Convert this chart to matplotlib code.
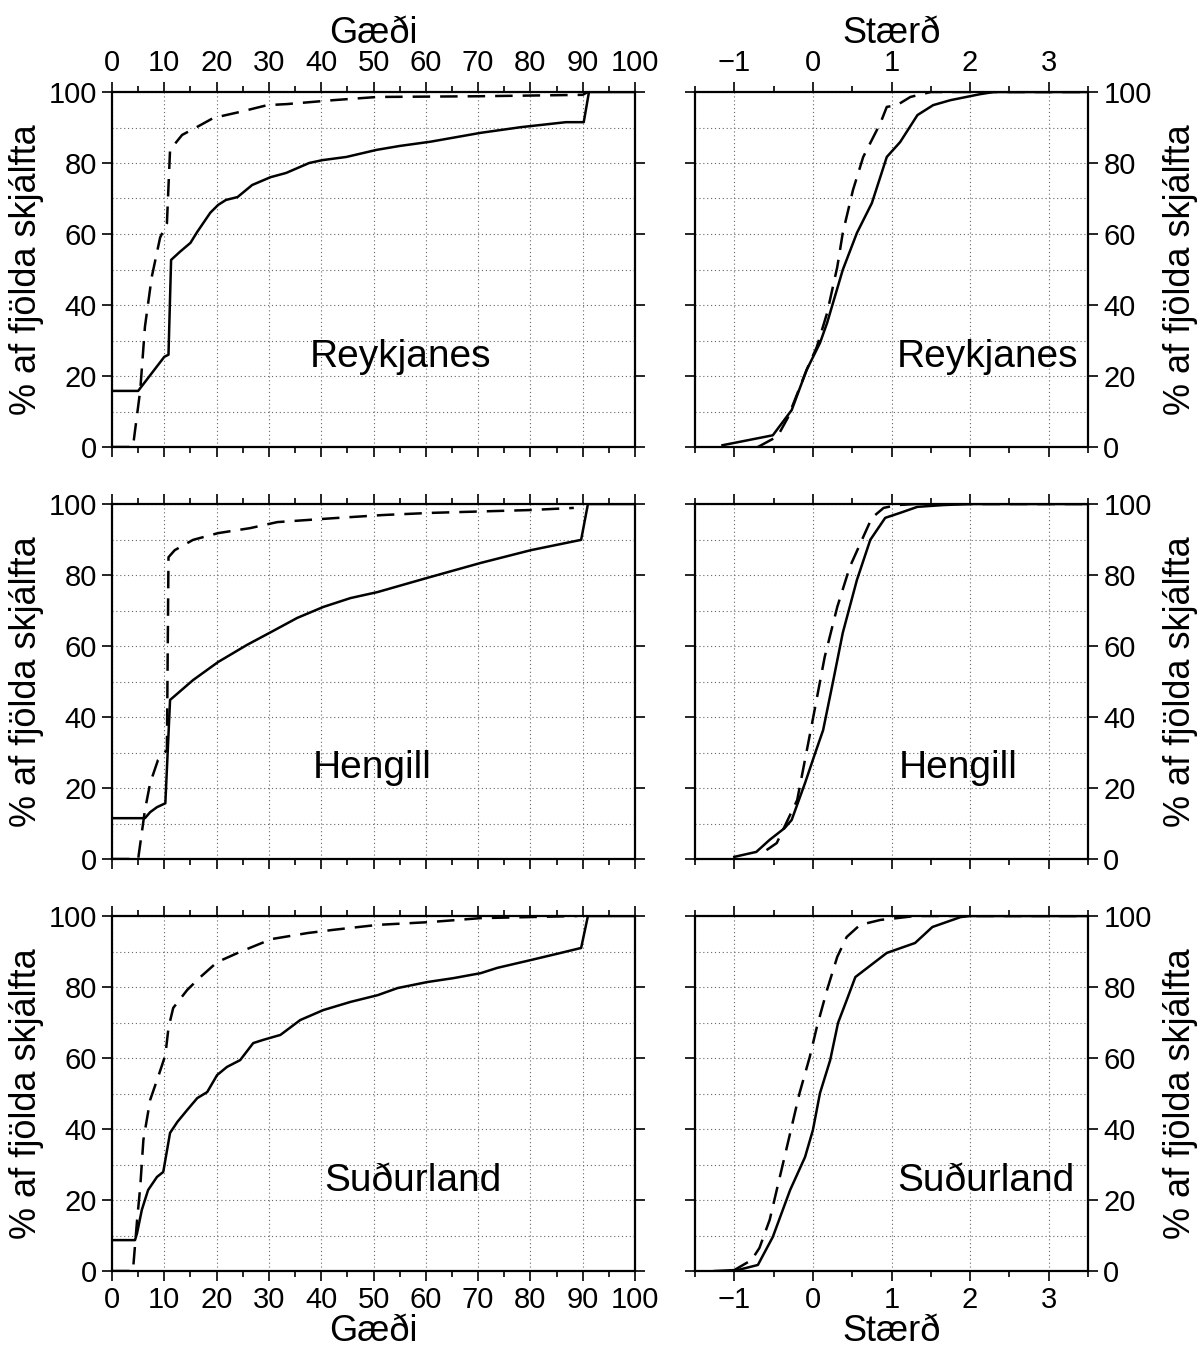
import matplotlib
matplotlib.use("Agg")
import matplotlib.pyplot as plt
import numpy as np

plt.rcParams['font.family'] = ['Liberation Sans', 'DejaVu Sans']

# ---- data: cumulative % of earthquakes ----
# Gæði (quality), left column
rk_q_solid_x = [0, 5, 10, 10.8, 11.3, 13, 15, 16.3, 18.8, 20.3, 21.8, 24, 26.8, 30.3, 33.3, 37.7,
                40.2, 44.8, 50.6, 55, 60.9, 70.5, 78.2, 86.8, 90.2, 91.2, 100]
rk_q_solid_y = [15.8, 15.8, 25.4, 26, 52.7, 55, 57.5, 60.6, 66, 68.2, 69.6, 70.4, 73.8, 76, 77.2, 80,
                80.8, 81.7, 83.7, 84.8, 86, 88.5, 90.1, 91.5, 91.5, 100, 100]
rk_q_dash_x = [0, 4, 5.4, 6.3, 7.6, 9.2, 10.5, 11.1, 13.4, 16.2, 19.4, 24.5, 29.7, 33.5, 42.3,
               50.7, 60, 70, 80, 90, 91]
rk_q_dash_y = [0, 0, 16, 33.9, 47.9, 59, 63, 83.7, 87.9, 90.1, 92.7, 94.4, 96.3, 96.6, 97.7,
               98.6, 98.7, 98.8, 99, 99.2, 100]

hg_q_solid_x = [0, 6.3, 7.3, 8.6, 10.2, 11.1, 15.5, 20.3, 25.8, 30.5, 35.4, 40.4, 45.6, 50.8,
                60.3, 70.5, 80.1, 89.7, 91, 100]
hg_q_solid_y = [11.5, 11.5, 13.2, 14.6, 15.7, 44.8, 50.4, 55.5, 60.3, 64, 67.9, 71, 73.5, 75.2,
                79.2, 83.4, 87, 89.9, 100, 100]
hg_q_dash_x = [0, 5, 6.3, 7.3, 8.8, 10.5, 10.8, 12, 15.5, 20.3, 26.4, 31.6, 42.3, 51.9, 61, 80, 88.3]
hg_q_dash_y = [0, 0, 13.8, 21.4, 27.9, 30.7, 85, 87, 89.9, 91.8, 93.2, 94.9, 96, 96.9, 97.5, 98.3, 98.9]

sl_q_solid_x = [0, 4.4, 4.8, 5.7, 6.9, 8.6, 9.8, 11.1, 12.5, 14.4, 16.3, 18.2, 20.1, 22, 24.5, 27,
                28.9, 32.2, 36, 40.4, 45.6, 50.8, 54.6, 60.3, 65.3, 70.5, 73.7, 80.1, 85.8, 89.7, 91, 100]
sl_q_solid_y = [8.7, 8.7, 10.7, 17.2, 22.8, 26.5, 27.9, 38.9, 42, 45.4, 48.7, 50.4, 55.2, 57.5, 59.4,
                64.2, 65.1, 66.5, 70.7, 73.5, 75.8, 77.7, 79.7, 81.4, 82.5, 83.9, 85.4, 87.6, 89.6, 91,
                100, 100]
sl_q_dash_x = [0, 4.0, 4.8, 5.4, 6, 7.3, 8.8, 10.2, 10.8, 11.7, 14.4, 16.9, 20.1, 24.5, 30.5, 37.4,
               42.3, 50.8, 60.9, 70.5, 80, 89]
sl_q_dash_y = [0, 0, 14.4, 23.7, 36.9, 48.2, 54.6, 60.8, 68.5, 74.1, 79.2, 82.8, 87, 89.9, 93.5,
               95.2, 96.1, 97.5, 98.3, 99.4, 99.7, 100]

# Stærð (magnitude), right column
rk_m_solid_x = [-1.15, -0.51, -0.27, -0.08, 0.09, 0.18, 0.38, 0.56, 0.75, 0.94, 1.11, 1.33, 1.53,
                1.75, 2.13, 2.3, 3.5]
rk_m_solid_y = [0.5, 3.3, 10.4, 21.7, 29.3, 34.9, 49.9, 60.3, 68.7, 81.7, 85.9, 93.5, 96.3,
                97.7, 99.4, 100, 100]
rk_m_dash_x = [-0.7, -0.45, -0.32, -0.08, 0.05, 0.18, 0.31, 0.38, 0.51, 0.64, 0.86, 0.94, 1.07,
               1.24, 1.5, 3.5]
rk_m_dash_y = [0, 3, 8.2, 21.7, 28.2, 37.7, 50.7, 60.3, 72.4, 81.7, 91.3, 95.8, 96.3, 98.6, 100, 100]

hg_m_solid_x = [-1.0, -0.72, -0.55, -0.36, -0.27, -0.10, 0.03, 0.13, 0.26, 0.38, 0.56, 0.73, 0.92,
                1.11, 1.33, 1.66, 2.0, 3.5]
hg_m_solid_y = [0.6, 2, 5.4, 8.7, 11, 21.4, 29.9, 36.3, 50.4, 63.7, 78.6, 89.9, 96.1, 97.5, 99.2,
                99.7, 100, 100]
hg_m_dash_x = [-0.59, -0.46, -0.2, -0.01, 0.15, 0.31, 0.47, 0.64, 0.75, 0.9, 1.07, 1.3, 3.5]
hg_m_dash_y = [2.5, 4.5, 16.6, 38.3, 56.9, 71, 82.3, 90.7, 96.1, 98.9, 99.7, 100, 100]

sl_m_solid_x = [-1.25, -0.95, -0.70, -0.51, -0.29, -0.1, 0.0, 0.09, 0.22, 0.32, 0.43, 0.54, 0.94,
                1.3, 1.52, 1.88, 2.0, 3.5]
sl_m_solid_y = [0, 0.3, 1.7, 9.6, 22.8, 32.1, 39.7, 50.1, 59.4, 69.9, 76.3, 82.8, 89.6, 92.4, 96.9,
                99.7, 100, 100]
sl_m_dash_x = [-1.02, -0.78, -0.68, -0.55, -0.33, -0.17, -0.04, 0.05, 0.18, 0.31, 0.43, 0.6, 0.86,
               1.07, 1.3, 3.5]
sl_m_dash_y = [0, 3.1, 6.5, 14.4, 35, 50.1, 60.3, 68.7, 79.2, 88.5, 94.1, 97.5, 98.9, 99.4, 100, 100]

regions = ['Reykjanes', 'Hengill', 'Suðurland']
q_curves = [(rk_q_solid_x, rk_q_solid_y, rk_q_dash_x, rk_q_dash_y),
            (hg_q_solid_x, hg_q_solid_y, hg_q_dash_x, hg_q_dash_y),
            (sl_q_solid_x, sl_q_solid_y, sl_q_dash_x, sl_q_dash_y)]
m_curves = [(rk_m_solid_x, rk_m_solid_y, rk_m_dash_x, rk_m_dash_y),
            (hg_m_solid_x, hg_m_solid_y, hg_m_dash_x, hg_m_dash_y),
            (sl_m_solid_x, sl_m_solid_y, sl_m_dash_x, sl_m_dash_y)]
q_label_pos = [(55.2, 25.4), (49.8, 25.6), (57.5, 25.4)]
m_label_pos = [(2.22, 25.4), (1.85, 25.6), (2.2, 25.4)]

W, H = 1200, 1352
fig = plt.figure(figsize=(12, 13.52), dpi=100)
fig.patch.set_facecolor('white')

row_top = [92, 504, 916]
ph = 355

ylab = '% af fjölda skjálfta'
grid_kw = dict(linestyle=(0, (1, 2.5)), linewidth=0.8, color='#666666')


def style(ax):
    for s in ax.spines.values():
        s.set_linewidth(1.6)
    ax.set_ylim(0, 100)
    ax.set_yticks(np.arange(0, 101, 20))
    ax.set_yticks(np.arange(0, 101, 10), minor=True)
    ax.grid(True, which='both', axis='y', **grid_kw)
    ax.tick_params(which='both', direction='out', top=True, bottom=True, left=True, right=True,
                   labelsize=21, width=1.2)
    ax.tick_params(which='major', length=7)
    ax.tick_params(which='minor', length=4)
    ax.tick_params(axis='y', which='minor', length=0)


for i in range(3):
    y0 = 1 - (row_top[i] + ph) / H
    # Gæði
    ax = fig.add_axes([112 / W, y0, 523 / W, ph / H])
    sx, sy, dx, dy = q_curves[i]
    ax.plot(sx, sy, color='black', lw=1.8, solid_joinstyle='round')
    ax.plot(dx, dy, color='black', lw=1.8, dashes=(7, 4))
    ax.set_xlim(0, 100)
    ax.set_xticks(np.arange(0, 101, 10))
    ax.set_xticks(np.arange(0, 101, 5), minor=True)
    style(ax)
    ax.grid(True, which='major', axis='x', **grid_kw)
    ax.tick_params(labelleft=True, labelright=False,
                   labeltop=(i == 0), labelbottom=(i == 2), pad=4)
    ax.set_ylabel(ylab, fontsize=26, labelpad=3)
    ax.text(q_label_pos[i][0], q_label_pos[i][1], regions[i], fontsize=28,
            ha='center', va='center')
    if i == 0:
        ax.set_xlabel('Gæði', fontsize=26, labelpad=4)
        ax.xaxis.set_label_position('top')
    if i == 2:
        ax.set_xlabel('Gæði', fontsize=26, labelpad=0)

    # Stærð
    ax = fig.add_axes([695 / W, y0, 393 / W, ph / H])
    sx, sy, dx, dy = m_curves[i]
    ax.plot(sx, sy, color='black', lw=1.8, solid_joinstyle='round')
    ax.plot(dx, dy, color='black', lw=1.8, dashes=(7, 4))
    ax.set_xlim(-1.5, 3.5)
    ax.set_xticks(np.arange(-1, 3.1, 1))
    ax.set_xticks(np.arange(-1.5, 3.51, 0.5), minor=True)
    style(ax)
    ax.grid(True, which='major', axis='x', **grid_kw)
    ax.tick_params(labelleft=False, labelright=True,
                   labeltop=(i == 0), labelbottom=(i == 2), pad=4)
    ax.yaxis.set_label_position('right')
    ax.set_ylabel(ylab, fontsize=26, labelpad=8)
    ax.text(m_label_pos[i][0], m_label_pos[i][1], regions[i], fontsize=28,
            ha='center', va='center')
    if i == 0:
        ax.set_xlabel('Stærð', fontsize=26, labelpad=4)
        ax.xaxis.set_label_position('top')
    if i == 2:
        ax.set_xlabel('Stærð', fontsize=26, labelpad=0)

fig.savefig('out.png', dpi=100, facecolor='white')
